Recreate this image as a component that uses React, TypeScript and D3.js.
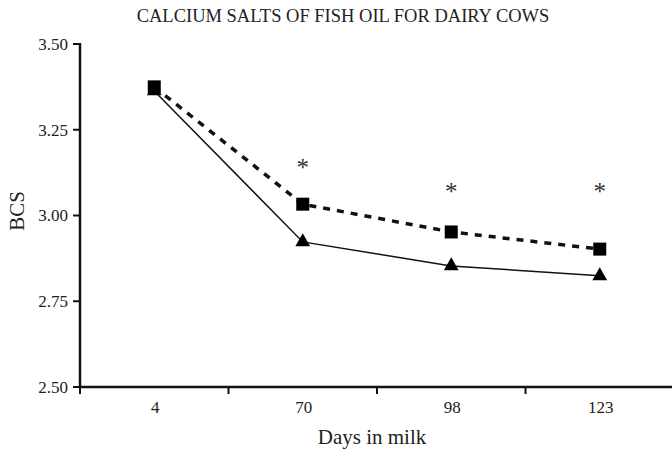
import React from "react";
import * as d3 from "d3";

const days = ["4", "70", "98", "123"];
const fishOil = [3.375, 3.033, 2.952, 2.902];
const control = [3.363, 2.923, 2.853, 2.824];
const sigMarks = [null, 3.153, 3.083, 3.083];
const yTicks = [2.5, 2.75, 3.0, 3.25, 3.5];

const W = 672;
const H = 452;
const FONT = "'Liberation Serif', 'Times New Roman', serif";

export default function App() {
  const left = 80;
  const right = 674;
  const top = 44;
  const bottom = 387;
  const x = d3.scaleBand<string>().domain(days).range([left, right]).padding(0);
  const y = d3.scaleLinear().domain([2.5, 3.5]).range([bottom, top]);
  const cx = (d: string) => (x(d) as number) + x.bandwidth() / 2;

  const line = d3
    .line<number>()
    .x((_, i) => cx(days[i]))
    .y((v) => y(v));

  const tri = d3.symbol().type(d3.symbolTriangle).size(95)() as string;

  return (
    <svg width={W} height={H} style={{ position: "absolute", left: 0, top: 0, background: "#fff" }}>
      <text x={343} y={22} textAnchor="middle" fontFamily={FONT} fontSize={18.5} fill="#222">
        CALCIUM SALTS OF FISH OIL FOR DAIRY COWS
      </text>
      {/* Y axis */}
      <line x1={left} x2={left} y1={top - 1} y2={bottom + 1} stroke="#111" strokeWidth={2.5} />
      {yTicks.map((t) => (
        <g key={t}>
          <line x1={left - 7} x2={left} y1={y(t)} y2={y(t)} stroke="#111" strokeWidth={2} />
          <text x={left - 12} y={y(t)} dy="0.35em" textAnchor="end" fontFamily={FONT} fontSize={17} fill="#222">
            {d3.format(".2f")(t)}
          </text>
        </g>
      ))}
      {/* X axis */}
      <line x1={left} x2={right} y1={bottom} y2={bottom} stroke="#111" strokeWidth={2.5} />
      {days.map((d) => (
        <line key={"t" + d} x1={x(d) as number} x2={x(d) as number} y1={bottom} y2={bottom + 7} stroke="#111" strokeWidth={2} />
      ))}
      {days.map((d) => (
        <text key={"l" + d} x={cx(d) + 1} y={bottom + 26} textAnchor="middle" fontFamily={FONT} fontSize={17} fill="#222">
          {d}
        </text>
      ))}
      <text x={372} y={444} textAnchor="middle" fontFamily={FONT} fontSize={21} fill="#222">
        Days in milk
      </text>
      <text
        transform={`translate(24,211) rotate(-90)`}
        textAnchor="middle"
        fontFamily={FONT}
        fontSize={21}
        fill="#222"
      >
        BCS
      </text>
      {/* lines */}
      <path d={line(control) as string} fill="none" stroke="#111" strokeWidth={1.5} />
      <path d={line(fishOil) as string} fill="none" stroke="#111" strokeWidth={3.5} strokeDasharray="7,7" />
      {control.map((v, i) => (
        <path key={"tr" + i} d={tri} transform={`translate(${cx(days[i])},${y(v)})`} fill="#000" />
      ))}
      {fishOil.map((v, i) => (
        <rect key={"sq" + i} x={cx(days[i]) - 6.5} y={y(v) - 6.5} width={13} height={13} fill="#000" />
      ))}
      {sigMarks.map((v, i) =>
        v == null ? null : (
          <text key={"s" + i} x={cx(days[i])} y={y(v)} dy="0.5em" textAnchor="middle" fontFamily={FONT} fontSize={25} fill="#333">
            *
          </text>
        )
      )}
    </svg>
  );
}
